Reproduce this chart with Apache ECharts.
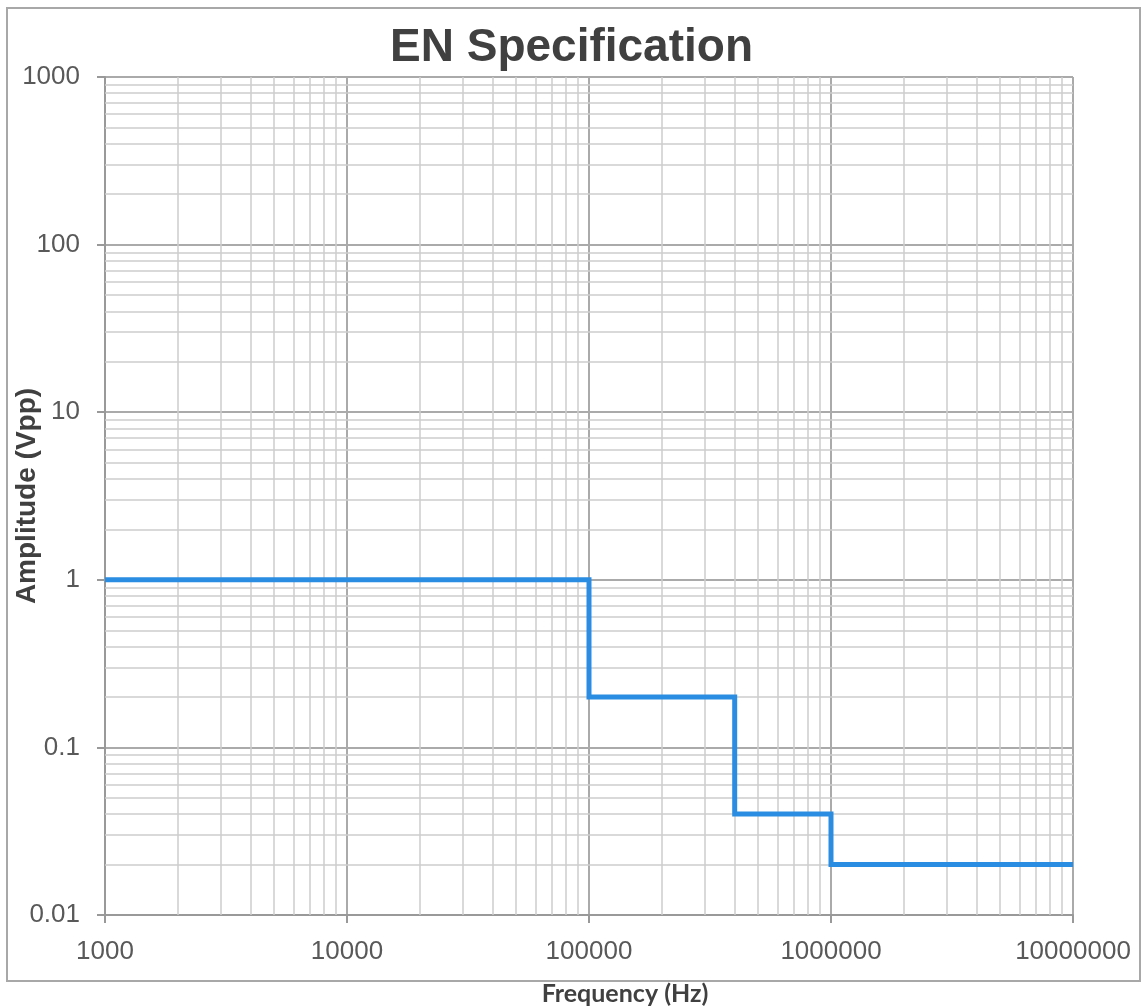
<!DOCTYPE html>
<html>
<head>
<meta charset="utf-8">
<style>html,body{margin:0;padding:0;background:#fff}#c{width:1143px;height:1008px}</style>
<script src="https://cdn.jsdelivr.net/npm/echarts@6/dist/echarts.min.js"></script>
</head>
<body>
<div id="c"></div>
<script>
// Data
var frequencyHz = [1000, 100000, 100000, 400000, 400000, 1000000, 1000000, 10000000];
var amplitudeVpp = [1, 1, 0.2, 0.2, 0.04, 0.04, 0.02, 0.02];
var xDecades = [1000, 10000, 100000, 1000000, 10000000];
var yDecades = [0.01, 0.1, 1, 10, 100, 1000];
var minorMultipliers = [2, 3, 4, 5, 6, 7, 8, 9];

function minorValues(decades) {
  var out = [];
  for (var i = 0; i < decades.length - 1; i++) {
    for (var j = 0; j < minorMultipliers.length; j++) {
      out.push(+(decades[i] * minorMultipliers[j]).toPrecision(6));
    }
  }
  return out;
}
var minorLines = [];
minorValues(xDecades).forEach(function (v) { minorLines.push({ xAxis: v }); });
minorValues(yDecades).forEach(function (v) { minorLines.push({ yAxis: v }); });

var pts = frequencyHz.map(function (f, i) { return [f, amplitudeVpp[i]]; });
function plain(v) { return String(+(+v).toPrecision(6)); }

var chart = echarts.init(document.getElementById('c'), null, { renderer: 'canvas' });
chart.setOption({
  animation: false,
  backgroundColor: '#fff',
  title: {
    text: 'EN Specification',
    left: 'center',
    top: 20,
    textStyle: { fontFamily: 'Liberation Sans, Arial, sans-serif', fontWeight: 'bold', fontSize: 46, color: '#404040' }
  },
  graphic: [{
    type: 'rect',
    shape: { x: 7, y: 8, width: 1133, height: 973 },
    style: { fill: 'none', stroke: '#a8a8a8', lineWidth: 2 },
    silent: true, z: -1
  }],
  grid: { left: 105, right: 70, top: 77, bottom: 93, containLabel: false, outerBoundsMode: 'none' },
  xAxis: {
    type: 'log', logBase: 10, min: 1000, max: 10000000,
    name: 'Frequency (Hz)', nameLocation: 'middle', nameGap: 66, nameMoveOverlap: false,
    nameTextStyle: { fontFamily: 'Lato, Open Sans, sans-serif', fontWeight: 'bold', fontSize: 25, color: '#404040',
      padding: [0, 0, 0, 72] },
    axisLine: { show: true, lineStyle: { color: '#999', width: 2 } },
    axisTick: { show: true, length: 8, lineStyle: { color: '#999', width: 2 } },
    axisLabel: { fontFamily: 'Liberation Sans, Arial, sans-serif', fontSize: 26, color: '#595959', margin: 24,
      formatter: plain },
    splitLine: { show: true, lineStyle: { color: '#aaa', width: 2 } },
    minorTick: { show: false }, minorSplitLine: { show: false }
  },
  yAxis: {
    type: 'log', logBase: 10, min: 0.01, max: 1000,
    name: 'Amplitude (Vpp)', nameLocation: 'middle', nameGap: 64, nameRotate: 90, nameMoveOverlap: false,
    nameTextStyle: { fontFamily: 'Liberation Sans, Arial, sans-serif', fontWeight: 'bold', fontSize: 28, color: '#404040' },
    axisLine: { show: true, lineStyle: { color: '#999', width: 2 } },
    axisTick: { show: true, length: 8, lineStyle: { color: '#999', width: 2 } },
    axisLabel: { fontFamily: 'Liberation Sans, Arial, sans-serif', fontSize: 26, color: '#595959', margin: 25,
      formatter: plain },
    splitLine: { show: true, lineStyle: { color: '#aaa', width: 2 } },
    minorTick: { show: false }, minorSplitLine: { show: false }
  },
  series: [{
    type: 'line',
    data: pts,
    showSymbol: false,
    lineStyle: { opacity: 0 },
    silent: true,
    z: 1,
    markLine: {
      silent: true, symbol: ['none', 'none'], animation: false,
      label: { show: false },
      lineStyle: { type: 'solid', color: '#cdcdcd', width: 1.5 },
      emphasis: { disabled: true },
      data: minorLines
    }
  }, {
    type: 'line',
    name: 'EN',
    data: pts,
    showSymbol: false,
    z: 5,
    lineStyle: { color: '#2b8de2', width: 5, join: 'miter' },
    itemStyle: { color: '#2b8de2' }
  }]
});
</script>
</body>
</html>
